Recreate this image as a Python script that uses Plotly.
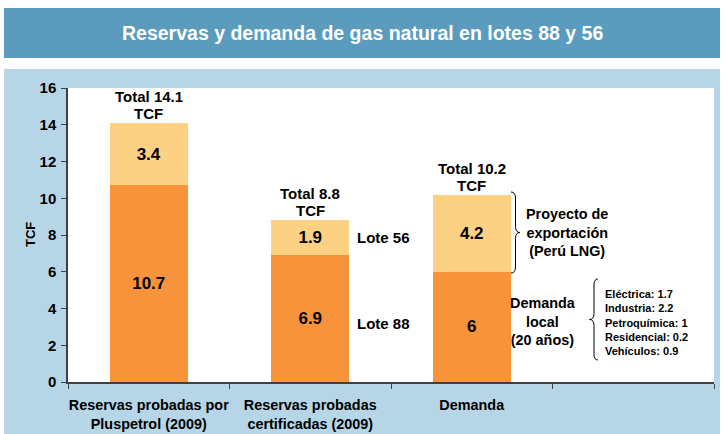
import plotly.graph_objects as go

# ---------------- data ----------------
categories = ["Reservas probadas por<br>Pluspetrol (2009)",
              "Reservas probadas<br>certificadas (2009)",
              "Demanda", " "]
base_vals = [10.7, 6.9, 6, None]      # Lote 88 / demanda local
top_vals = [3.4, 1.9, 4.2, None]      # Lote 56 / exportación
totals = [14.1, 8.8, 10.2]
y_ticks = [0, 2, 4, 6, 8, 10, 12, 14, 16]
sectors = ["Eléctrica", "Industria", "Petroquímica", "Residencial", "Vehículos"]
sector_vals = ["1.7", "2.2", "1", "0.2", "0.9"]

# ---------------- geometry helpers ----------------
W, H = 724, 434
L, R, T, B = 68, 714, 88, 382

def px(x):
    return (x - L) / (R - L)

def py(y):
    return (B - y) / (B - T)

FONT = "Liberation Sans, Arial, sans-serif"
DARK = "#F7933B"
LIGHT = "#FDD184"
AXIS = "#404040"

fig = go.Figure()
fig.add_trace(go.Bar(x=categories, y=base_vals, marker=dict(color=DARK, line=dict(width=0)),
                     texttemplate="%{y}", textposition="inside", insidetextanchor="middle",
                     textangle=0, constraintext="none",
                     textfont=dict(family=FONT, size=17, color="black", weight="bold"),
                     hoverinfo="skip"))
fig.add_trace(go.Bar(x=categories, y=top_vals, marker=dict(color=LIGHT, line=dict(width=0)),
                     texttemplate="%{y}", textposition="inside", insidetextanchor="middle",
                     textangle=0, constraintext="none",
                     textfont=dict(family=FONT, size=17, color="black", weight="bold"),
                     hoverinfo="skip"))

shapes = []
# light-blue panel
shapes.append(dict(type="rect", xref="paper", yref="paper", x0=px(4), x1=px(720),
                   y0=py(434), y1=py(69), fillcolor="#B6D6E8", line=dict(width=0), layer="below"))
# white plot area
shapes.append(dict(type="rect", xref="paper", yref="paper", x0=px(L), x1=px(R),
                   y0=py(B), y1=py(T), fillcolor="white", line=dict(width=0), layer="below"))
# header band
shapes.append(dict(type="rect", xref="paper", yref="paper", x0=px(4), x1=px(720),
                   y0=py(58), y1=py(8), fillcolor="#5B9BBE", line=dict(width=0), layer="below"))


def brace(x0, xm, xt, y0, y1):
    ym = (y0 + y1) / 2
    r = 6
    pts = [
        ("M", [(x0, y0)]),
        ("Q", [(xm, y0), (xm, y0 + r)]),
        ("L", [(xm, ym - r)]),
        ("Q", [(xm, ym), (xt, ym)]),
        ("Q", [(xm, ym), (xm, ym + r)]),
        ("L", [(xm, y1 - r)]),
        ("Q", [(xm, y1), (x0, y1)]),
    ]
    s = ""
    for cmd, ps in pts:
        s += cmd + " " + " ".join(f"{px(a):.5f},{py(b):.5f}" for a, b in ps) + " "
    return s.strip()

shapes.append(dict(type="path", xref="paper", yref="paper", path=brace(511, 515.5, 520, 192, 273),
                   line=dict(color="black", width=1)))
shapes.append(dict(type="path", xref="paper", yref="paper", path=brace(598, 594, 589.5, 279, 360),
                   line=dict(color="black", width=1)))

ann = []
ann.append(dict(text="Reservas y demanda de gas natural en lotes 88 y 56", xref="paper", yref="paper",
                x=px(362), y=py(33), showarrow=False, xanchor="center", yanchor="middle",
                font=dict(family=FONT, size=19.5, color="white", weight="bold")))
ann.append(dict(text="TCF", xref="paper", yref="paper", x=px(30), y=0.5, textangle=-90,
                showarrow=False, xanchor="center", yanchor="middle",
                font=dict(family=FONT, size=13, color="black", weight="bold")))
for i, t in enumerate(totals):
    ann.append(dict(text="TCF", x=categories[i], y=t, xref="x", yref="y",
                    showarrow=False, yanchor="bottom", xanchor="center", yshift=-1,
                    font=dict(family=FONT, size=15, color="black", weight="bold")))
    ann.append(dict(text=f"Total {t}", x=categories[i], y=t, xref="x", yref="y",
                    showarrow=False, yanchor="bottom", xanchor="center", yshift=16,
                    font=dict(family=FONT, size=15, color="black", weight="bold")))
ann.append(dict(text="Lote 56", xref="paper", yref="y", x=px(355), y=base_vals[1] + top_vals[1] / 2,
                showarrow=False, xanchor="left", yanchor="middle",
                font=dict(family=FONT, size=15, color="black", weight="bold")))
ann.append(dict(text="Lote 88", xref="paper", yref="y", x=px(355), y=base_vals[1] / 2, yshift=-5,
                showarrow=False, xanchor="left", yanchor="middle",
                font=dict(family=FONT, size=15, color="black", weight="bold")))
ann.append(dict(text="Proyecto de<br>exportación<br>(Perú LNG)", xref="paper", yref="paper",
                x=px(567), y=py(232), showarrow=False, xanchor="center", yanchor="middle",
                font=dict(family=FONT, size=14.4, color="black", weight="bold")))
ann.append(dict(text="Demanda<br>local<br>(20 años)", xref="paper", yref="paper",
                x=px(543), y=py(321), showarrow=False, xanchor="center", yanchor="middle",
                font=dict(family=FONT, size=14.4, color="black", weight="bold")))
ann.append(dict(text="<br>".join(f"{s}: {v}" for s, v in zip(sectors, sector_vals)),
                xref="paper", yref="paper", x=px(603), y=py(322), showarrow=False,
                xanchor="left", yanchor="middle", align="left",
                font=dict(family=FONT, size=11, color="black", weight="bold")))

fig.update_layout(
    width=W, height=H,
    margin=dict(l=L, r=W - R, t=T, b=H - B, pad=0),
    paper_bgcolor="white", plot_bgcolor="white",
    barmode="stack", bargap=0.52, showlegend=False,
    shapes=shapes, annotations=ann,
    xaxis=dict(type="category", categoryorder="array", categoryarray=categories,
               range=[-0.5, 3.5], tickson="boundaries", ticks="outside", ticklen=5,
               tickcolor=AXIS, showline=True, linecolor=AXIS, linewidth=1.5,
               tickangle=0, automargin=False, ticklabelstandoff=9,
               showgrid=False, tickfont=dict(family=FONT, size=14.4, color="black", weight="bold")),
    yaxis=dict(range=[0, 16], tickvals=y_ticks, ticks="outside", ticklen=5, tickcolor=AXIS,
               showline=True, linecolor=AXIS, linewidth=1.5, showgrid=False, zeroline=False,
               automargin=False, ticklabelstandoff=2,
               tickfont=dict(family=FONT, size=15, color="black", weight="bold")),
)

fig.write_html("out.html", config={"displayModeBar": False},
               post_script="document.body.style.margin='0';")
